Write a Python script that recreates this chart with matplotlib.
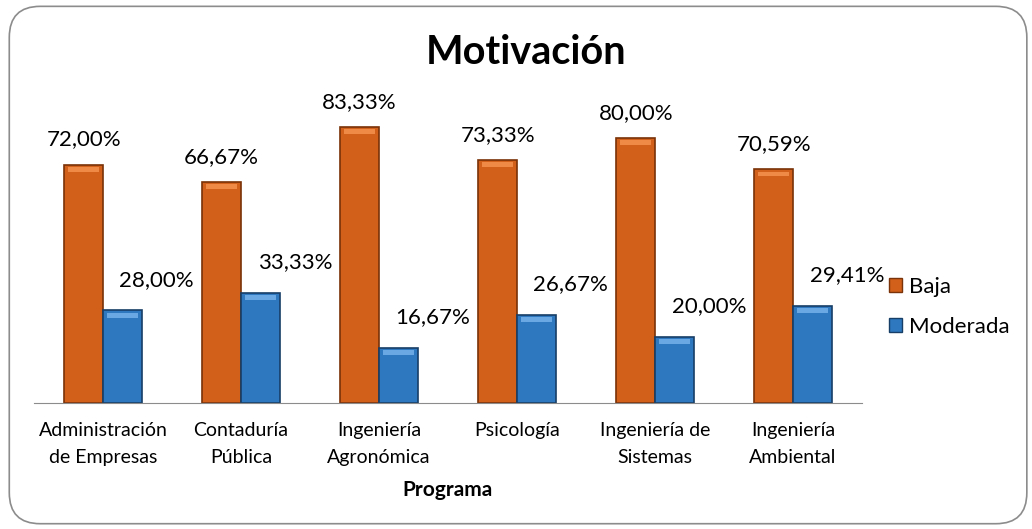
import numpy as np
import matplotlib.pyplot as plt
from matplotlib.patches import FancyBboxPatch, Patch

programas = ["Administración\nde Empresas", "Contaduría\nPública", "Ingeniería\nAgronómica",
             "Psicología", "Ingeniería de\nSistemas", "Ingeniería\nAmbiental"]
baja = [72.00, 66.67, 83.33, 73.33, 80.00, 70.59]
moderada = [28.00, 33.33, 16.67, 26.67, 20.00, 29.41]

plt.rcParams['font.family'] = ['Lato', 'DejaVu Sans']

fig = plt.figure(figsize=(10.32, 5.29), dpi=100)
fig.patches.append(FancyBboxPatch((0.009, 0.010), 0.986, 0.978, boxstyle="round,pad=0,rounding_size=0.03",
                                  transform=fig.transFigure, fc='none', ec='#8c8c8c', lw=1.2,
                                  mutation_aspect=1032/529, zorder=-1))
ax = fig.add_axes([0.0329, 0.2382, 0.8024, 0.5635])
ax.patch.set_alpha(0)

xs = np.arange(len(programas))
w = 0.28
c_baja, c_mod = '#D2601A', '#2E78C0'
ax.bar(xs - w/2, baja, w, color=c_baja, edgecolor='#7a3208', linewidth=1.2, zorder=2)
ax.bar(xs + w/2, moderada, w, color=c_mod, edgecolor='#173e66', linewidth=1.2, zorder=2)
# light bevel on top
ax.bar(xs - w/2, [1.5]*6, w*0.8, bottom=np.array(baja) - 2.2, color='#ee8a45', linewidth=0, zorder=3)
ax.bar(xs + w/2, [1.5]*6, w*0.8, bottom=np.array(moderada) - 2.2, color='#6aa8e4', linewidth=0, zorder=3)

for x, v in zip(xs, baja):
    ax.text(x - w/2, v + 4.6, f"{v:.2f}%".replace('.', ','), ha='center', va='bottom', fontsize=16)
for x, v in zip(xs, moderada):
    ax.text(x + w/2 + 0.25, v + 6.2, f"{v:.2f}%".replace('.', ','), ha='center', va='bottom', fontsize=16)

ax.set_xlim(-0.5, 5.5)
ax.set_ylim(0, 90)
ax.set_yticks([])
for s in ['top', 'right', 'left']:
    ax.spines[s].set_visible(False)
ax.spines['bottom'].set_color('#8c8c8c')
ax.set_xticks(xs)
ax.set_xticklabels(programas, fontsize=14, linespacing=1.7)
ax.tick_params(axis='x', length=0, pad=14)
ax.set_xlabel("Programa", fontsize=15, fontweight='bold', labelpad=10)

fig.text(0.51, 0.90, "Motivación", ha='center', va='center', fontsize=28.5, fontweight='bold')

handles = [Patch(facecolor=c_baja, edgecolor='#7a3208'), Patch(facecolor=c_mod, edgecolor='#173e66')]
fig.legend(handles, ["Baja", "Moderada"], loc='center left', bbox_to_anchor=(0.842, 0.42),
           frameon=False, fontsize=16, handlelength=0.6, handleheight=0.6, handletextpad=0.3,
           labelspacing=0.9)

fig.savefig("out.png", dpi=100)
